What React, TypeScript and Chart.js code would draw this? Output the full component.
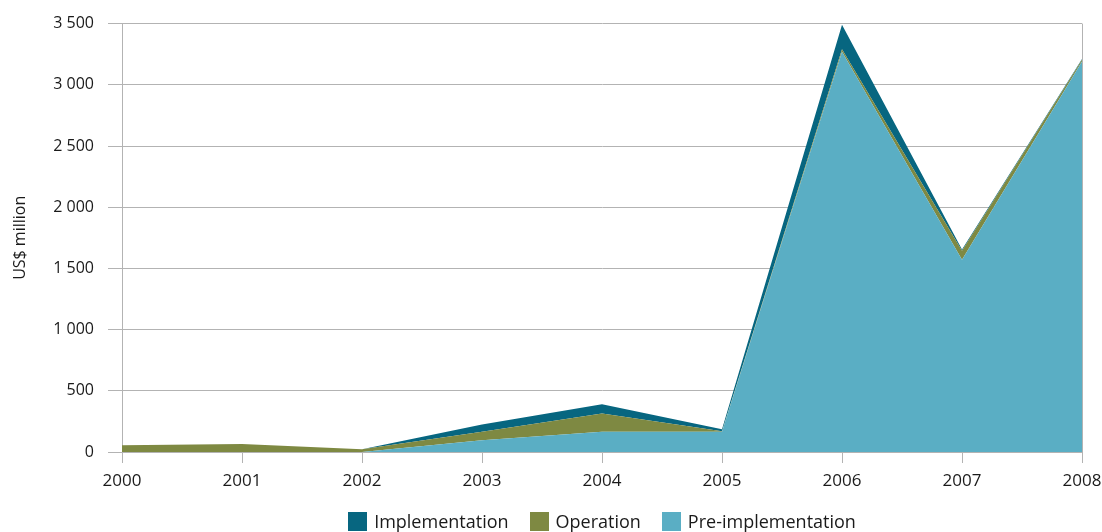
import React, { useEffect, useRef } from "react";
import { Chart, registerables } from "chart.js";

Chart.register(...registerables);

const years = ["2000", "2001", "2002", "2003", "2004", "2005", "2006", "2007", "2008"];
const preImplementation = [0, 0, 0, 95, 165, 165, 3270, 1570, 3190];
const operation = [55, 65, 22, 70, 150, 5, 20, 75, 15];
const implementation = [0, 0, 0, 60, 75, 15, 200, 10, 5];

const seriesNames = ["Implementation", "Operation", "Pre-implementation"];
const seriesColors = ["#076680", "#7e8942", "#5aaec4"];

const FONT = "'Open Sans', sans-serif";
const GRID = "#b3b3b3";
const TEXT = "#1a1a1a";

const fmt = (v: number) => {
  const s = Math.round(v).toString();
  return s.replace(/\B(?=(\d{3})+(?!\d))/g, " ");
};

export default function App() {
  const ref = useRef<HTMLCanvasElement | null>(null);

  useEffect(() => {
    if (!ref.current) return;
    const area = (label: string, data: number[], color: string, fill: string) => ({
      label,
      data,
      backgroundColor: color,
      borderColor: color,
      borderWidth: 0,
      pointRadius: 0,
      fill,
      tension: 0,
    });
    const chart = new Chart(ref.current, {
      type: "line",
      data: {
        labels: years,
        datasets: [
          area(seriesNames[2], preImplementation, seriesColors[2], "origin"),
          area(seriesNames[1], operation, seriesColors[1], "-1"),
          area(seriesNames[0], implementation, seriesColors[0], "-1"),
        ],
      },
      options: {
        responsive: false,
        animation: false,
        layout: { padding: { left: 0, right: 20, top: 22, bottom: 0 } },
        plugins: {
          tooltip: { enabled: false },
          legend: { display: false },
        },
        scales: {
          x: {
            offset: false,
            border: { display: true, color: GRID, width: 1 },
            grid: {
              drawOnChartArea: true,
              color: (c: any) => (c.index === years.length - 1 ? GRID : "rgba(0,0,0,0)"),
              tickColor: GRID,
              tickLength: 11,
            },
            ticks: {
              color: TEXT,
              font: { family: FONT, size: 17 },
              padding: 8,
              maxRotation: 0,
              autoSkip: false,
            },
            afterFit: (s: any) => {
              s.height = 80;
              s.paddingLeft = 0;
              s.paddingRight = 0;
            },
          },
          y: {
            stacked: true,
            min: 0,
            max: 3500,
            border: { display: true, color: GRID, width: 1 },
            grid: {
              color: GRID,
              tickColor: GRID,
              tickLength: 14,
            },
            ticks: {
              stepSize: 500,
              color: TEXT,
              font: { family: FONT, size: 16 },
              padding: 14,
              callback: (v: any) => fmt(Number(v)),
            },
            title: {
              display: true,
              text: "US$ million",
              color: TEXT,
              font: { family: FONT, size: 16 },
              padding: { top: 11, bottom: 0 },
            },
            afterFit: (s: any) => {
              s.width = 122;
            },
          },
        },
      },
    });
    return () => chart.destroy();
  }, []);

  return (
    <div style={{ position: "fixed", left: 0, top: 0, width: 1102, height: 532, background: "#fff" }}>
      <canvas ref={ref} width={1102} height={532} style={{ display: "block" }} />
      <div
        style={{
          position: "absolute",
          left: 122,
          width: 960,
          top: 512,
          height: 19,
          display: "flex",
          justifyContent: "center",
          fontFamily: FONT,
          fontSize: 18,
          color: TEXT,
          lineHeight: "19px",
        }}
      >
        {seriesNames.map((name, i) => (
          <div key={name} style={{ display: "flex", alignItems: "center", marginRight: i < 2 ? 21 : 0 }}>
            <span style={{ width: 19, height: 19, background: seriesColors[i], display: "inline-block", marginRight: 7 }} />
            <span>{name}</span>
          </div>
        ))}
      </div>
    </div>
  );
}
